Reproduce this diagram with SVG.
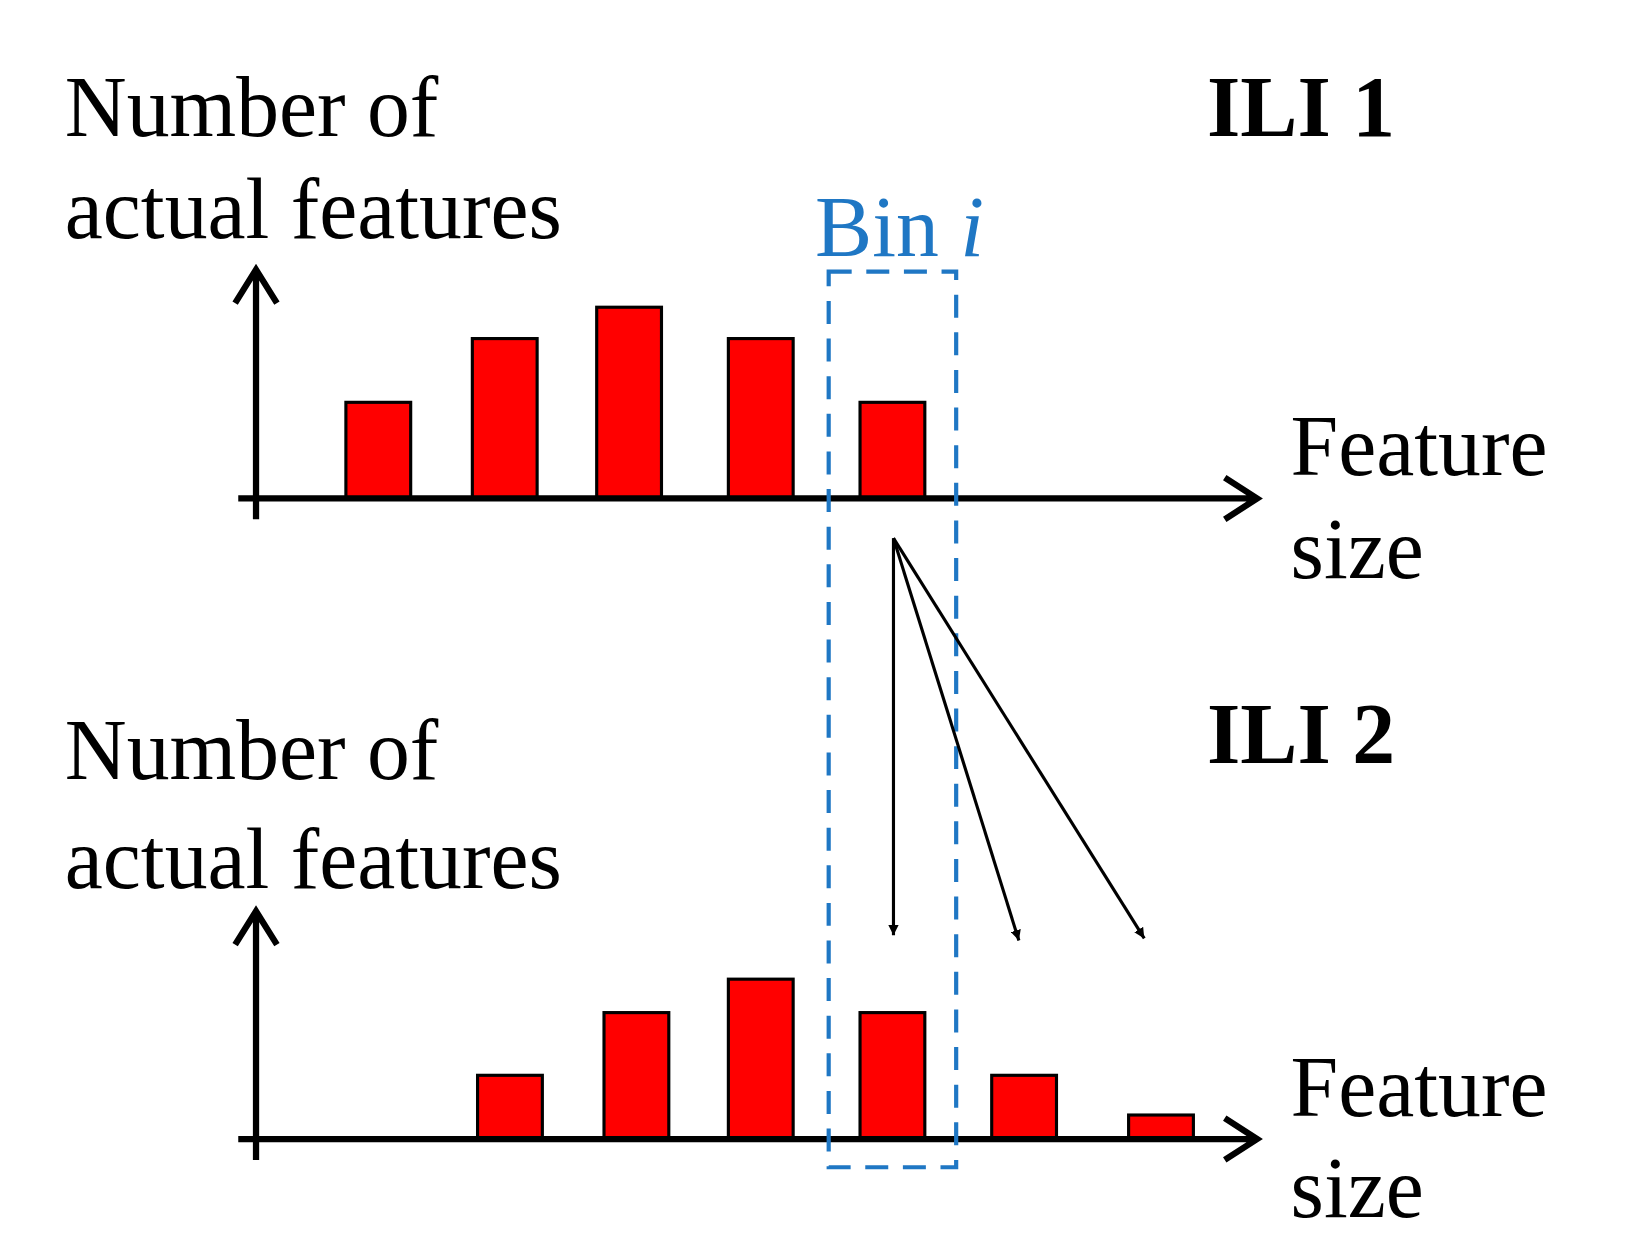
<svg xmlns="http://www.w3.org/2000/svg" width="1638" height="1260" viewBox="0 0 1638 1260">
<style>
.t{font-family:"Liberation Serif","Times New Roman",serif;font-size:82px;fill:#000}
.b{font-weight:bold}
.bar{fill:#f00;stroke:#000;stroke-width:3}
.ax{stroke:#000;stroke-width:6;fill:none}
.ar{stroke:#000;stroke-width:3;fill:none}
</style>
<defs>
<marker id="ah" viewBox="0 0 10 10" refX="10" refY="5" markerWidth="10" markerHeight="10" markerUnits="userSpaceOnUse" orient="auto"><path d="M0,0L10,5L0,10z" fill="#000"/></marker>
</defs>
<rect width="1638" height="1260" fill="#fff"/>
<g transform="scale(1.045)">
<g id="chart1">
<text class="t" x="62" y="130">Number of</text>
<text class="t" x="62" y="228">actual features</text>
<text class="t b" x="1155" y="130">ILI 1</text>
<text class="t" x="1235" y="455">Feature</text>
<text class="t" x="1235" y="553">size</text>
<rect class="bar" x="331" y="385" width="62" height="92"/>
<rect class="bar" x="452" y="324" width="62" height="153"/>
<rect class="bar" x="571" y="294" width="62" height="183"/>
<rect class="bar" x="697" y="324" width="62" height="153"/>
<rect class="bar" x="823" y="385" width="62" height="92"/>
<path class="ax" d="M245,497V258M225,290L245,258L265,290M228,477H1203M1172,457L1203,477L1172,497"/>
</g>
<g id="chart2">
<text class="t" x="62" y="745">Number of</text>
<text class="t" x="62" y="850">actual features</text>
<text class="t b" x="1155" y="730">ILI 2</text>
<text class="t" x="1235" y="1068">Feature</text>
<text class="t" x="1235" y="1165">size</text>
<rect class="bar" x="457" y="1029" width="62" height="61"/>
<rect class="bar" x="578" y="969" width="62" height="121"/>
<rect class="bar" x="697" y="937" width="62" height="153"/>
<rect class="bar" x="823" y="969" width="62" height="121"/>
<rect class="bar" x="949" y="1029" width="62" height="61"/>
<rect class="bar" x="1080" y="1067" width="62" height="23"/>
<path class="ax" d="M245,1110V872M225,904L245,872L265,904M228,1090H1203M1172,1070L1203,1090L1172,1110"/>
</g>
<g id="bin">
<rect x="793" y="260" width="122" height="857" fill="none" stroke="#1f77c4" stroke-width="4" stroke-dasharray="22,14"/>
<text class="t" x="780" y="245" fill="#1f77c4" style="fill:#1f77c4">Bin <tspan font-style="italic">i</tspan></text>
</g>
<g id="connectors">
<line class="ar" x1="855" y1="515" x2="855" y2="895" marker-end="url(#ah)"/>
<line class="ar" x1="855" y1="515" x2="975" y2="900" marker-end="url(#ah)"/>
<line class="ar" x1="855" y1="515" x2="1095" y2="898" marker-end="url(#ah)"/>
</g>
</g>
</svg>
